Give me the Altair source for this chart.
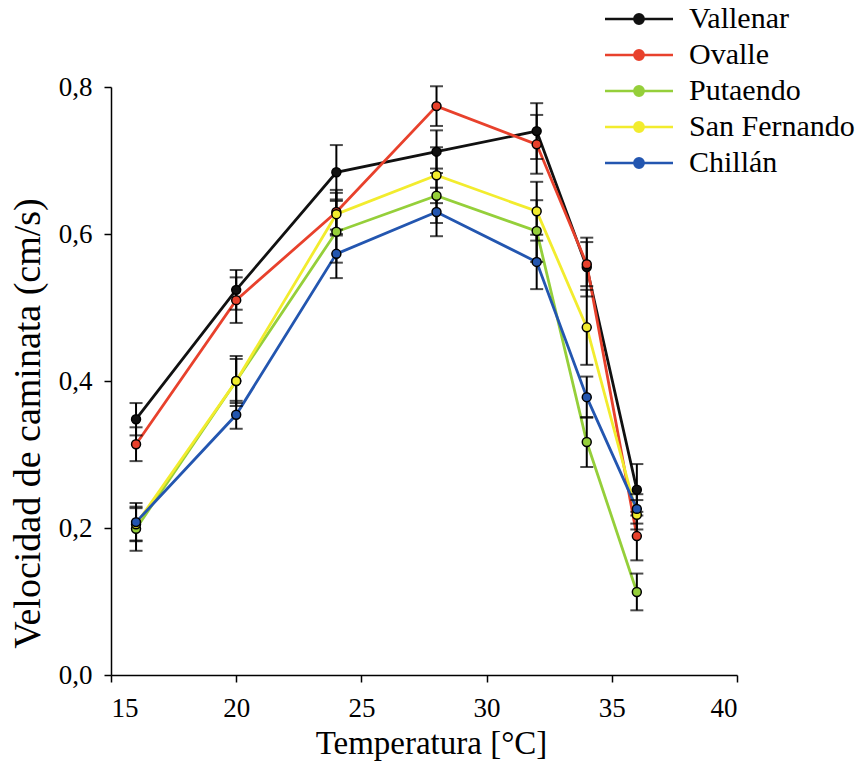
import altair as alt
import pandas as pd

temps = [16, 20, 24, 28, 32, 34, 36]
sites = ["Vallenar", "Ovalle", "Putaendo", "San Fernando", "Chillán"]
colors = ["#111111", "#e8412c", "#95cf3a", "#f2ec2e", "#2356b0"]

vallenar = [0.348, 0.524, 0.684, 0.712, 0.740, 0.555, 0.252]
ovalle = [0.314, 0.510, 0.630, 0.774, 0.722, 0.559, 0.189]
putaendo = [0.199, 0.400, 0.603, 0.652, 0.604, 0.317, 0.113]
san_fernando = [0.205, 0.400, 0.627, 0.680, 0.631, 0.473, 0.218]
chillan = [0.208, 0.354, 0.573, 0.630, 0.562, 0.378, 0.226]

err_vallenar = [0.022, 0.027, 0.037, 0.029, 0.038, 0.040, 0.035]
err_ovalle = [0.023, 0.031, 0.030, 0.027, 0.040, 0.030, 0.033]
err_putaendo = [0.030, 0.030, 0.042, 0.037, 0.042, 0.034, 0.025]
err_san_fernando = [0.022, 0.034, 0.029, 0.038, 0.040, 0.051, 0.020]
err_chillan = [0.026, 0.019, 0.033, 0.033, 0.037, 0.028, 0.020]

values = [vallenar, ovalle, putaendo, san_fernando, chillan]
errors = [err_vallenar, err_ovalle, err_putaendo, err_san_fernando, err_chillan]

rows = []
for k, (s, vals, errs) in enumerate(zip(sites, values, errors)):
    for t, v, e in zip(temps, vals, errs):
        rows.append({"site": s, "order": k, "temp": t, "v": v, "lo": v - e, "hi": v + e})
df = pd.DataFrame(rows)

FONT = "Liberation Serif"

x = alt.X("temp:Q", scale=alt.Scale(domain=[15, 40], nice=False),
          axis=alt.Axis(values=[15, 20, 25, 30, 35, 40], title="Temperatura [°C]",
                        labelFontSize=27, titleFontSize=33, labelPadding=13,
                        titlePadding=6, titleX=320, grid=False))
y = alt.Y("v:Q", scale=alt.Scale(domain=[0, 0.8], nice=False),
          axis=alt.Axis(values=[0, 0.2, 0.4, 0.6, 0.8], title="Velocidad de caminata (cm/s)",
                        labelExpr="replace(format(datum.value, '.1f'), '.', ',')",
                        labelFontSize=27, titleFontSize=38, labelPadding=12,
                        titleX=-64, titleY=336, grid=False))

legend_path = ("M-4,0L4,0M0.55,0A0.55,0.55,0,1,1,-0.55,0A0.55,0.55,0,1,1,0.55,0Z")

color = alt.Color("site:N", sort=sites,
                  scale=alt.Scale(domain=sites, range=colors),
                  legend=alt.Legend(title=None, orient="none", legendX=494, legendY=-83,
                                    symbolType=legend_path, symbolSize=289,
                                    symbolStrokeWidth=2.5, symbolOffset=19,
                                    labelOffset=35, labelFontSize=30, labelFont=FONT,
                                    rowPadding=6, labelLimit=300))

lines = alt.Chart(df).mark_line(strokeWidth=2.8).encode(
    x=x, y=y, color=color, order=alt.Order("temp:Q"),
    detail="site:N")

rules = alt.Chart(df).mark_rule(color="black", strokeWidth=2).encode(
    x="temp:Q", y="lo:Q", y2="hi:Q")
caps_hi = alt.Chart(df).mark_tick(color="black", thickness=2, size=13, orient="horizontal").encode(
    x="temp:Q", y="hi:Q")
caps_lo = alt.Chart(df).mark_tick(color="black", thickness=2, size=13, orient="horizontal").encode(
    x="temp:Q", y="lo:Q")

points = alt.Chart(df).mark_point(filled=True, size=80, stroke="black", strokeWidth=1.5,
                                  opacity=1).encode(
    x="temp:Q", y="v:Q", color=color)

chart = alt.layer(lines, rules, caps_hi, caps_lo, points).properties(
    width=626, height=588,
    autosize=alt.AutoSizeParams(type="none"),
    padding={"left": 111, "top": 87, "right": 130, "bottom": 95},
).configure(font=FONT).configure_axis(
    labelFont=FONT, titleFont=FONT, labelColor="black", titleColor="black",
    titleFontWeight="normal", domainColor="black", tickColor="black",
    domainWidth=1.5, tickWidth=1.5, tickSize=7,
).configure_view(stroke=None).configure_legend(labelColor="black")

chart.save("out.html", embed_options={"renderer": "svg", "actions": False})
